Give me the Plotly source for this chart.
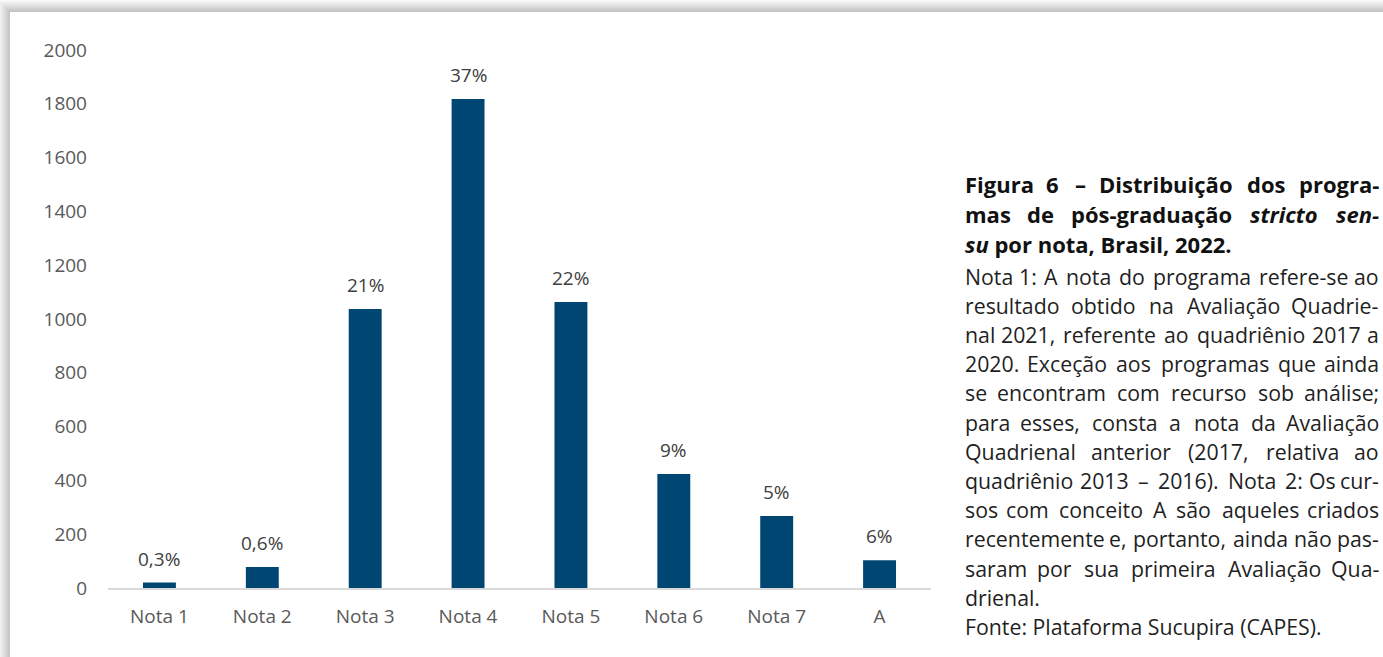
import re
import plotly.graph_objects as go

# ---------------- data ----------------
categories = ["Nota 1", "Nota 2", "Nota 3", "Nota 4", "Nota 5", "Nota 6", "Nota 7", "A"]
values = [20, 78, 1037, 1818, 1063, 424, 268, 103]
pct_labels = ["0,3%", "0,6%", "21%", "37%", "22%", "9%", "5%", "6%"]
y_ticks = list(range(0, 2001, 200))

title_lines = [
    ("Figura 6 – Distribuição dos progra-", True),
    ("mas de pós-graduação <i>stricto</i> <i>sen-</i>", True),
    ("<i>su</i> por nota, Brasil, 2022.", False),
]
body_lines = [
    ("Nota 1: A nota do programa refere-se ao", True),
    ("resultado obtido na Avaliação Quadrie-", True),
    ("nal 2021, referente ao quadriênio 2017 a", True),
    ("2020. Exceção aos programas que ainda", True),
    ("se encontram com recurso sob análise;", True),
    ("para esses, consta a nota da Avaliação", True),
    ("Quadrienal anterior (2017, relativa ao", True),
    ("quadriênio 2013 – 2016). Nota 2: Os cur-", True),
    ("sos com conceito A são aqueles criados", True),
    ("recentemente e, portanto, ainda não pas-", True),
    ("saram por sua primeira Avaliação Qua-", True),
    ("drienal.", False),
    ("Fonte: Plataforma Sucupira (CAPES).", False),
]

# ---------------- geometry ----------------
W, H = 1383, 657
ML, MR, MT, MB = 108, 452, 50, 69
PW, PH = W - ML - MR, H - MT - MB


def px_x(px):
    return (px - ML) / PW


def px_y(py):
    return (H - MB - py) / PH


# approximate Open Sans advance widths (units per em = 2048)
ADV = {' ': 532, '(': 594, ')': 594, ',': 502, '-': 659, '.': 545, ':': 545, ';': 545,
       '%': 1706, '–': 1024,
       'A': 1296, 'B': 1327, 'C': 1292, 'D': 1493, 'E': 1139, 'F': 1057, 'N': 1532,
       'P': 1237, 'Q': 1567, 'S': 1106,
       'a': 1139, 'b': 1255, 'c': 975, 'd': 1255, 'e': 1149, 'f': 694, 'g': 1122,
       'h': 1257, 'i': 518, 'j': 518, 'k': 1075, 'l': 518, 'm': 1905, 'n': 1257,
       'o': 1237, 'p': 1255, 'q': 1255, 'r': 836, 's': 977, 't': 723, 'u': 1257,
       'v': 1026, 'w': 1593, 'x': 1073, 'y': 1028, 'z': 954}
for ch in "0123456789":
    ADV[ch] = 1171
BASE = {'á': 'a', 'ã': 'a', 'â': 'a', 'à': 'a', 'é': 'e', 'ê': 'e', 'ç': 'c',
        'ó': 'o', 'õ': 'o', 'ô': 'o', 'í': 'i', 'ú': 'u'}


def text_width(s, size, bold=False):
    plain = re.sub(r"<[^>]+>", "", s)
    units = sum(ADV.get(BASE.get(c, c), 1100) for c in plain)
    w = units / 2048 * size
    return w * (1.045 if bold else 1.0)


X0, X1 = 963, 1381

annotations = []


def add_line(text, justify, yc, size, color, bold):
    wrap = (lambda t: "<b>" + t + "</b>") if bold else (lambda t: t)
    if not justify:
        annotations.append(dict(text=wrap(text), x=px_x(X0), y=px_y(yc), xref="paper",
                                yref="paper", xanchor="left", yanchor="middle",
                                showarrow=False, font=dict(family="Open Sans", size=size, color=color)))
        return
    words = text.split(" ")
    widths = [text_width(wd, size, bold) for wd in words]
    gap = (X1 - X0 - sum(widths)) / (len(words) - 1)
    x = X0
    for i, (wd, wv) in enumerate(zip(words, widths)):
        if i == 0:
            xa, xp = "left", X0
        elif i == len(words) - 1:
            xa, xp = "right", X1
        else:
            xa, xp = "center", x + wv / 2
        annotations.append(dict(text=wrap(wd), x=px_x(xp), y=px_y(yc), xref="paper",
                                yref="paper", xanchor=xa, yanchor="middle",
                                showarrow=False, font=dict(family="Open Sans", size=size, color=color)))
        x += wv + gap


for i, (t, j) in enumerate(title_lines):
    add_line(t, j, 184 + 30 * i, 22, "#111111", True)
for i, (t, j) in enumerate(body_lines):
    add_line(t, j, 276 + 29.2 * i, 21.3, "#1f1f1f", False)

# percentage labels above bars (anchored on data values)
for c, v, lab in zip(categories, values, pct_labels):
    annotations.append(dict(text=lab, x=c, y=v, xref="x", yref="y", yanchor="middle",
                            yshift=24, showarrow=False,
                            font=dict(family="Open Sans", size=19, color="#404040")))

# ---------------- frame with shadow ----------------
shapes = []
for k in range(1, 13):
    shapes.append(dict(type="rect", xref="paper", yref="paper", layer="below",
                       x0=px_x(10 - k), x1=px_x(1500), y0=px_y(12 - k), y1=px_y(800),
                       fillcolor="rgba(0,0,0,0.018)", line=dict(width=0)))
shapes.append(dict(type="rect", xref="paper", yref="paper", layer="below",
                   x0=px_x(10), x1=px_x(1500), y0=px_y(12), y1=px_y(800),
                   fillcolor="white", line=dict(width=0)))

fig = go.Figure(go.Bar(x=categories, y=values, marker=dict(color="#004672", line=dict(width=0)),
                       hoverinfo="skip"))

fig.update_layout(
    width=W, height=H,
    margin=dict(l=ML, r=MR, t=MT, b=MB, pad=0),
    paper_bgcolor="white", plot_bgcolor="rgba(0,0,0,0)",
    bargap=0.68, showlegend=False,
    font=dict(family="Open Sans", color="#595959"),
    annotations=annotations, shapes=shapes,
)
fig.update_xaxes(showline=True, linecolor="#d9d9d9", linewidth=2, showgrid=False,
                 ticks="", tickfont=dict(size=19, color="#595959"), ticklabelstandoff=10,
                 fixedrange=True)
fig.update_yaxes(range=[0, 2000], tickvals=y_ticks, showgrid=False, zeroline=False,
                 showline=False, ticks="", tickfont=dict(size=19, color="#595959"),
                 ticklabelstandoff=20, fixedrange=True)

fig.write_html("out.html", config={"displayModeBar": False},
               post_script="document.body.style.margin='0px';document.body.style.overflow='hidden';")
